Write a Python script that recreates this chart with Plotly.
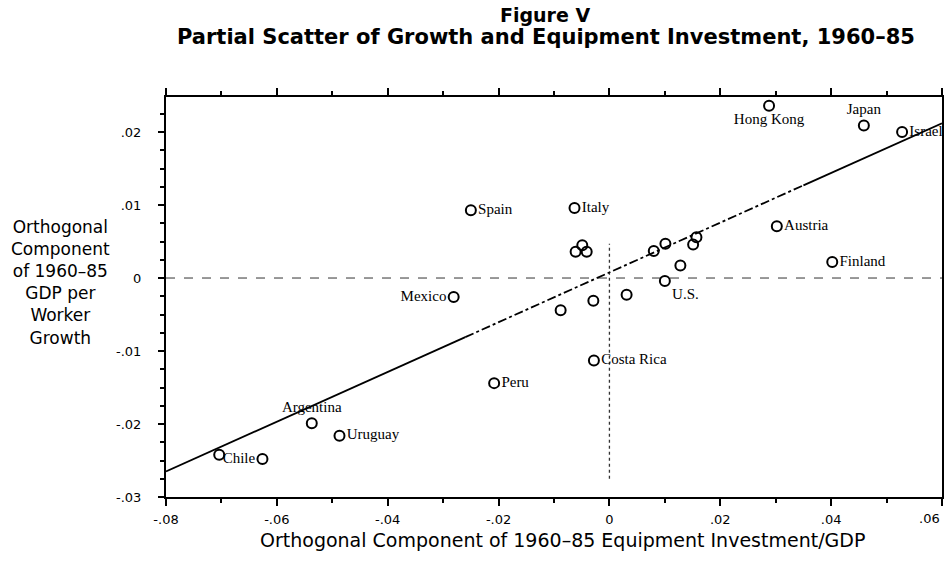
import plotly.graph_objects as go

# ---- data ----
countries = ["Hong Kong", "Japan", "Israel", "Italy", "", "", "",
             "Austria", "Finland", "", "", "", "", "", "U.S.", "", "", "",
             "Costa Rica", "Spain", "Mexico", "Peru", "Argentina", "Uruguay",
             "", "Chile"]
x_vals = [0.0288, 0.0459, 0.0528, -0.0063, -0.0061, -0.0049, -0.0041,
          0.0302, 0.0402, 0.0080, 0.0101, 0.0151, 0.0157, 0.0128, 0.0100,
          0.0031, -0.0029, -0.0088,
          -0.0028, -0.0250, -0.0281, -0.0208, -0.0537, -0.0487,
          -0.0704, -0.0626]
y_vals = [0.0236, 0.0209, 0.0200, 0.0096, 0.0036, 0.0045, 0.0036,
          0.0071, 0.0022, 0.0037, 0.0047, 0.0046, 0.0056, 0.0017, -0.0004,
          -0.0023, -0.0031, -0.0044,
          -0.0113, 0.0093, -0.0026, -0.0144, -0.0199, -0.0216,
          -0.0242, -0.0248]

# fitted line, read at its ends and where its dash pattern changes
fit_x = [-0.08, -0.026, 0.035, 0.06]
fit_y = [-0.0265, -0.0081, 0.0127, 0.0212]

x_ticks = [-0.08, -0.06, -0.04, -0.02, 0, 0.02, 0.04, 0.06]
x_tick_text = ["-.08", "-.06", "-.04", "-.02", "0", ".02", ".04", ".06"]
y_ticks = [-0.03, -0.02, -0.01, 0, 0.01, 0.02]
y_tick_text = ["-.03", "-.02", "-.01", "0", ".01", ".02"]

# ---- label placement (style) ----
label_pos = {"Hong Kong": "bottom center", "Japan": "top center", "Mexico": "middle left",
             "Argentina": "top center", "Chile": "middle left", "U.S.": "bottom right"}
positions = [label_pos.get(c, "middle right") for c in countries]

fig = go.Figure()

# reference lines at zero
fig.add_trace(go.Scatter(x=[x_ticks[0], x_ticks[-1]], y=[0, 0], mode="lines",
                         line=dict(color="#333", width=1, dash="dash"),
                         hoverinfo="skip", showlegend=False))
fig.add_trace(go.Scatter(x=[0, 0], y=[-0.0275, 0.0047], mode="lines",
                         line=dict(color="#333", width=1.3, dash="dot"),
                         hoverinfo="skip", showlegend=False))

# fitted line: solid - dash-dot - solid
styles = ["solid", "dashdot", "solid"]
for i, st in enumerate(styles):
    fig.add_trace(go.Scatter(x=fit_x[i:i + 2], y=fit_y[i:i + 2], mode="lines",
                             line=dict(color="black", width=1.8, dash=st),
                             hoverinfo="skip", showlegend=False))

fig.add_trace(go.Scatter(
    x=x_vals, y=y_vals, mode="markers+text", text=countries,
    textposition=positions, cliponaxis=True,
    textfont=dict(family="Liberation Serif", size=15, color="black"),
    marker=dict(symbol="circle-open", size=10, color="black", line=dict(width=2)),
    showlegend=False))

tick_font = dict(family="DejaVu Sans", size=13, color="black")
axis_common = dict(showgrid=False, zeroline=False, showline=True, linecolor="black",
                   linewidth=2, ticks="outside", tickcolor="black", tickwidth=1.5,
                   mirror="allticks", automargin=False, tickfont=tick_font)

# last x label sits at the page edge: draw it right-anchored instead
shown_x_text = x_tick_text[:-1] + [""]
fig.update_xaxes(range=[-0.08, 0.06], tickvals=x_ticks, ticktext=shown_x_text, ticklen=7,
                 minor=dict(dtick=0.01, ticks="outside", ticklen=4, tickcolor="black"),
                 ticklabelstandoff=2, **axis_common)
fig.update_yaxes(range=[-0.03, 0.0248], tickvals=y_ticks, ticktext=y_tick_text, ticklen=6,
                 minor=dict(dtick=0.0025, ticks="outside", ticklen=4, tickcolor="black"),
                 ticklabelstandoff=14, **axis_common)

W, H = 944, 561
ml, mr, mt, mb = 166, 2, 97, 64
pw, ph = W - ml - mr, H - mt - mb


def px(x, y):
    return (x - ml) / pw, (H - y - mb) / ph


anns = [
    ("<b>Figure V</b>", 545, 15, 19),
    ("<b>Partial Scatter of Growth and Equipment Investment, 1960–85</b>", 546, 37, 21),
    ("Orthogonal<br>Component<br>of 1960–85<br>GDP per<br>Worker<br>Growth", 60, 282, 17),
    ("Orthogonal Component of 1960–85 Equipment Investment/GDP", 562, 540, 19),
]
annotations = []
for text, x, y, size in anns:
    ax, ay = px(x, y)
    annotations.append(dict(text=text, x=ax, y=ay, xref="paper", yref="paper",
                            xanchor="center", yanchor="middle", showarrow=False,
                            align="center",
                            font=dict(family="DejaVu Sans", size=size, color="black")))
annotations.append(dict(text=x_tick_text[-1], x=x_ticks[-1], xref="x", xanchor="right",
                        y=0, yref="paper", yanchor="top", yshift=-12, showarrow=False,
                        font=tick_font))

fig.update_layout(
    width=W, height=H,
    margin=dict(l=ml, r=mr, t=mt, b=mb, autoexpand=False),
    plot_bgcolor="white", paper_bgcolor="white",
    annotations=annotations,
)

fig.write_html("out.html", config={"displayModeBar": False},
               post_script="document.body.style.margin='0';")
